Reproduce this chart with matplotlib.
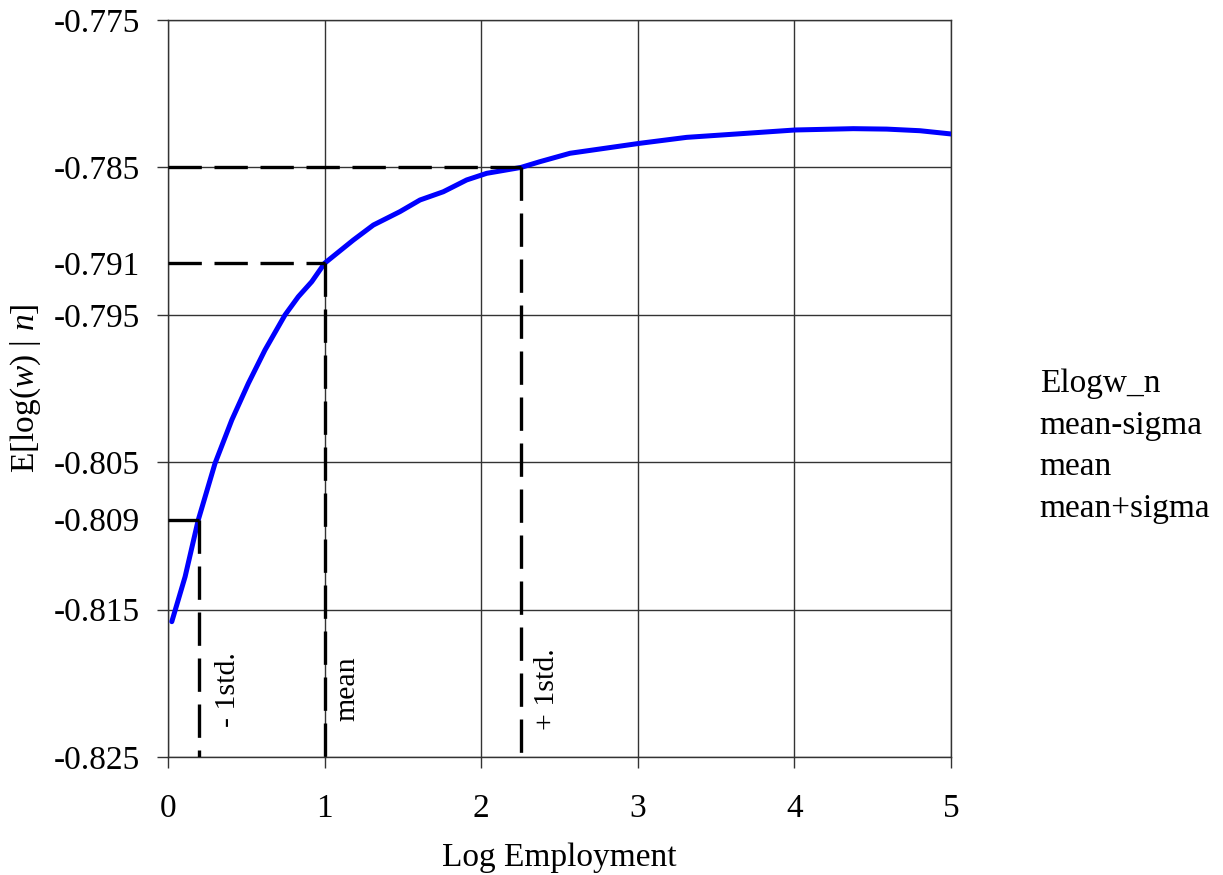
import matplotlib
matplotlib.use("Agg")
import matplotlib.pyplot as plt

plt.rcParams["font.family"] = ["Liberation Serif", "DejaVu Serif"]
plt.rcParams["mathtext.fontset"] = "custom"
plt.rcParams["mathtext.rm"] = "Liberation Serif"
plt.rcParams["mathtext.it"] = "Liberation Serif:italic"

# E[log(w) | n] curve
log_emp = [0.024, 0.109, 0.193, 0.300, 0.407, 0.513, 0.619, 0.747, 0.832,
           0.918, 1.000, 1.183, 1.311, 1.481, 1.609, 1.758, 1.907, 2.035,
           2.254, 2.375, 2.567, 3.008, 3.312, 3.632, 4.004, 4.376, 4.589,
           4.802, 5.000]
elogw_n = [-0.81582, -0.81277, -0.80892, -0.80508, -0.80214, -0.79965,
           -0.79739, -0.79501, -0.79377, -0.79275, -0.79150, -0.78993,
           -0.78891, -0.78800, -0.78721, -0.78665, -0.78585, -0.78540,
           -0.78500, -0.78461, -0.78404, -0.78337, -0.78296, -0.78273,
           -0.78246, -0.78237, -0.78240, -0.78251, -0.78273]

# reference points: mean-sigma, mean, mean+sigma
ref_names = ["mean-sigma", "mean", "mean+sigma"]
ref_x = [0.2, 1.0, 2.254]
ref_y = [-0.8089, -0.7915, -0.785]
ref_ylabels = ["-0.809", "-0.791"]
ref_text = ["- 1std.", "mean", "+ 1std."]
text_x = [0.383, 1.143, 2.42]

y_major = [-0.825, -0.815, -0.805, -0.795, -0.785, -0.775]
x_ticks = [0, 1, 2, 3, 4, 5]

fig = plt.figure(figsize=(12.23, 8.75), dpi=100)
ax = fig.add_axes([0.1374, 0.1349, 0.6402, 0.8422])

ymin = -0.825
dash = dict(color="black", lw=2.4, dashes=(10, 3.8), zorder=5)
handles = []
h, = ax.plot(log_emp, elogw_n, color="#0000ff", lw=3.6, solid_capstyle="round",
             solid_joinstyle="round", zorder=4, label="Elogw_n")
handles.append(h)
for name, x, y in zip(ref_names, ref_x, ref_y):
    # horizontal leg from the axis, vertical leg down to the bottom
    h, = ax.plot([0, x], [y, y], label=name, **dash)
    ax.plot([x, x], [y, ymin], **dash)
    handles.append(h)

for t, tx in zip(ref_text, text_x):
    ax.text(tx, -0.8204, t, rotation=90, ha="center", va="center", fontsize=21.5)

ax.set_xlim(0, 5)
ax.set_ylim(-0.825, -0.775)
ax.set_xticks(x_ticks)
ax.set_yticks(y_major)
ax.set_yticklabels([f"{v:.3f}" for v in y_major])
ax.set_yticks(ref_y[:2], minor=True)
ax.set_yticklabels(ref_ylabels, minor=True)
ax.tick_params(axis="y", which="minor", length=0, pad=20, labelsize=24)
ax.tick_params(axis="both", which="major", direction="out", length=8,
               width=1, labelsize=24, color="#333333")
ax.tick_params(axis="x", pad=18)
ax.tick_params(axis="y", which="major", pad=12)
ax.grid(True, which="major", color="#333333", lw=1.0)
ax.set_axisbelow(True)
for s in ax.spines.values():
    s.set_color("#333333")
    s.set_linewidth(1.0)

ax.set_xlabel("Log Employment", fontsize=24, labelpad=13.5)
ax.set_ylabel(r"E[log($\mathit{w}$) | $\mathit{n}$]", fontsize=24, labelpad=8)

leg = fig.legend(handles, [hh.get_label() for hh in handles], loc="center left",
                 bbox_to_anchor=(0.8255, 0.49), frameon=False, fontsize=24,
                 handlelength=0, handletextpad=0, labelspacing=0.33)
for lh in leg.legend_handles:
    lh.set_visible(False)

fig.savefig("out.png", dpi=100)
